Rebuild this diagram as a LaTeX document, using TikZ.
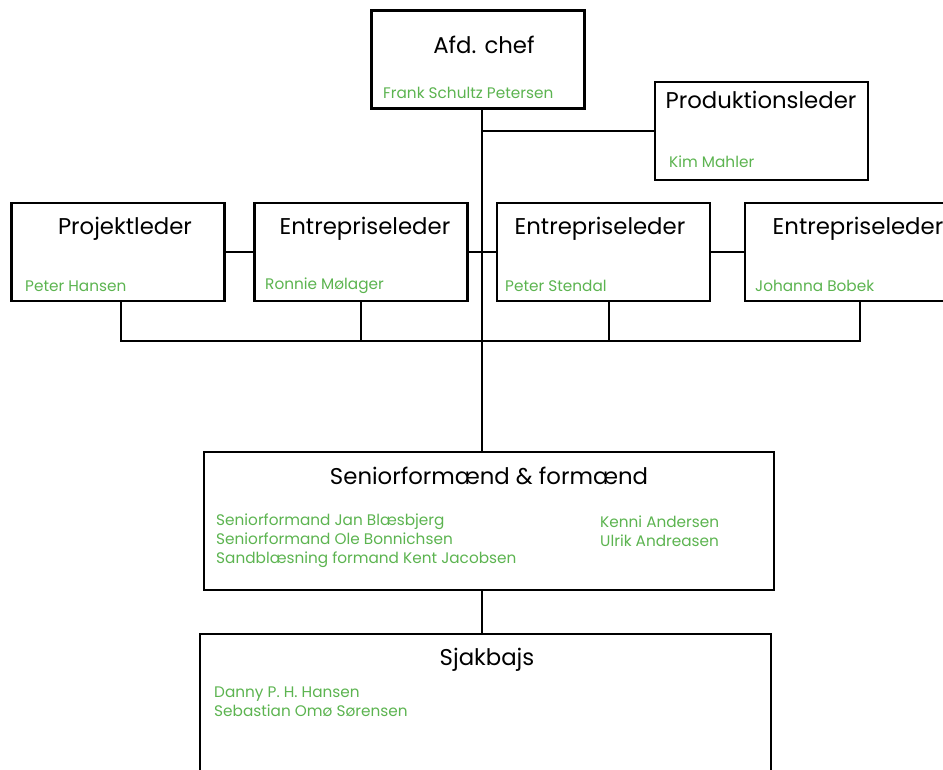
\documentclass[tikz,border=0pt]{standalone}
\usepackage{fontspec}
\setmainfont{Poppins}
\usetikzlibrary{positioning}
\definecolor{namegreen}{RGB}{92,180,80}

\tikzset{
  orgbox/.style={draw=black, line width=2.2pt, inner sep=0pt, minimum width=213pt, minimum height=98pt},
  boxtitle/.style={font=\fontsize{22.8}{26}\selectfont, inner sep=0pt},
  namelist/.style={text=namegreen, font=\fontsize{15.3}{19}\selectfont, align=left, anchor=west, inner sep=0pt},
  orgline/.style={line width=2.2pt}
}

\begin{document}
\begin{tikzpicture}[x=1pt, y=-1pt]
    \clip (0,0) rectangle (943,769);
    \fill[white] (0,0) rectangle (943,769);

    % Top: department head and production
    \node[orgbox] (chef) at (478,59.5) {};
    \node[boxtitle] (chefT) at (484,45) {Afd. chef};
    \node[namelist] (chefN) at (383,93) {Frank Schultz Petersen};

    \node[orgbox] (prod) at (761.5,131) {};
    \node[boxtitle] (prodT) at (761,100) {Produktionsleder};
    \node[namelist] (prodN) at (669,162) {Kim Mahler};

    % Middle row
    \node[orgbox] (proj) at (118,252) {};
    \node[boxtitle] (projT) at (125,229) {Projektleder};
    \node[namelist] (projN) at (25,286) {Peter Hansen};

    \node[orgbox] (entrA) at (361,252) {};
    \node[boxtitle] (entrAT) at (365,229) {Entrepriseleder};
    \node[namelist] (entrAN) at (265,286) {Ronnie Mølager};

    \node[orgbox] (entrB) at (603.5,252) {};
    \node[boxtitle] (entrBT) at (600,229) {Entrepriseleder};
    \node[namelist] (entrBN) at (505,286) {Peter Stendal};

    \node[orgbox, minimum width=230pt] (entrC) at (860,252) {};
    \node[boxtitle] (entrCT) at (858,229) {Entrepriseleder};
    \node[namelist] (entrCN) at (755,286) {Johanna Bobek};

    % Foremen
    \node[orgbox, minimum width=570pt, minimum height=138pt] (senior) at (489,521) {};
    \node[boxtitle] (seniorT) at (489,476) {Seniorformænd \& formænd};
    \node[namelist] (seniorN) at (216,541) {Seniorformand Jan Blæsbjerg\\Seniorformand Ole Bonnichsen\\Sandblæsning formand Kent Jacobsen};
    \node[namelist] (seniorM) at (600,531.5) {Kenni Andersen\\Ulrik Andreasen};

    % Crew
    \node[orgbox, minimum width=571pt, minimum height=172pt] (sjak) at (485.5,720) {};
    \node[boxtitle] (sjakT) at (487,660) {Sjakbajs};
    \node[namelist] (sjakN) at (214,702) {Danny P. H. Hansen\\Sebastian Omø Sørensen};

    % Lines
    \coordinate (hub) at (482,341);
    \draw[orgline] (hub |- chef.south) -- (hub |- senior.north);
    \draw[orgline] (hub |- prod.west) -- (prod.west);
    \draw[orgline] (proj.east) -- (entrA.west);
    \draw[orgline] (entrA.east) -- (hub |- entrA.east);
    \draw[orgline] (hub |- entrB.west) -- (entrB.west);
    \draw[orgline] (entrB.east) -- (entrC.west);
    \draw[orgline] ([xshift=3pt]proj.south) |- (entrC.south |- hub) -- (entrC.south);
    \draw[orgline] (entrA.south) -- (entrA.south |- hub);
    \draw[orgline] ([xshift=5.5pt]entrB.south) -- ([xshift=5.5pt]entrB.south |- hub);
    \draw[orgline] (hub |- senior.south) -- (hub |- sjak.north);
\end{tikzpicture}
\end{document}
